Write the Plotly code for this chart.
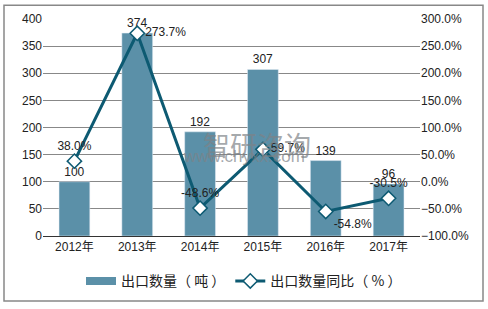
import plotly.graph_objects as go

years = ["2012年", "2013年", "2014年", "2015年", "2016年", "2017年"]
qty = [100, 374, 192, 307, 139, 96]
yoy = [38.0, 273.7, -48.6, 59.7, -54.8, -30.5]
yoy_pos = ["top center", "middle right", "top center", "middle right", "bottom right", "top center"]

BAR = "#5b90a8"
LINE = "#0d5a72"
FONT = "Liberation Sans, Noto Sans CJK SC, sans-serif"
CJK = "Noto Sans CJK SC, sans-serif"

fig = go.Figure()
fig.add_trace(go.Bar(
    x=years, y=qty, name="出口数量（吨）", marker_color=BAR, width=0.49, showlegend=False,
    text=[str(v) for v in qty], textposition="outside", cliponaxis=False,
    textfont=dict(size=12, color="#222"),
))
# legend swatch for bars (wide rectangle like the reference)
fig.add_trace(go.Scatter(x=[None], y=[None], mode="lines", name="出口数量（ 吨 ）",
                         line=dict(color=BAR, width=8)))
fig.add_trace(go.Scatter(
    x=years, y=yoy, name="出口数量同比（ % ）", yaxis="y2", mode="lines+markers+text",
    line=dict(color=LINE, width=3),
    marker=dict(symbol="diamond", size=11, color="white", line=dict(color=LINE, width=1.5)),
    text=[f"{v:.1f}%" for v in yoy], textposition=yoy_pos,
    textfont=dict(size=12, color="#222"), cliponaxis=False,
))

fig.add_annotation(text="智研咨询", x=(257 - 43) / 377, y=(237 - 144) / 220, xref="paper", yref="paper",
                   showarrow=False, font=dict(size=27, color="rgba(125,130,135,0.7)", family=CJK))
fig.add_annotation(text="www.chyxx.com", x=(244 - 43) / 377, y=(237 - 168) / 220, xref="paper", yref="paper",
                   showarrow=False, font=dict(size=17, color="rgba(125,130,135,0.7)", family=FONT))

fig.update_layout(
    width=488, height=309,
    margin=dict(l=43, r=68, t=17, b=72),
    paper_bgcolor="white", plot_bgcolor="white",
    font=dict(family=FONT, size=12, color="#222"),
    bargap=0.51,
    showlegend=True,
    legend=dict(orientation="h", x=(244 - 43) / 377, xanchor="center", y=-46 / 220, yanchor="middle",
                font=dict(size=14, family=CJK), itemwidth=30, tracegroupgap=0),
    xaxis=dict(showline=True, linecolor="#333", linewidth=1, ticks="", tickfont=dict(size=12)),
    yaxis=dict(range=[0, 400], dtick=50, showgrid=True, gridcolor="#888", gridwidth=1,
               zeroline=False, tickfont=dict(size=12)),
    yaxis2=dict(range=[-100, 300], dtick=50, overlaying="y", side="right", showgrid=False,
                zeroline=False, ticksuffix="%", tickformat=".1f", tickfont=dict(size=12)),
)
# outer border
fig.add_shape(type="rect", xref="paper", yref="paper",
              x0=(4 - 43) / 377, x1=(483 - 43) / 377, y0=-(303 - 237) / 220, y1=1 + (17 - 3) / 220,
              line=dict(color="#888", width=1.5))

fig.write_html("out.html")
